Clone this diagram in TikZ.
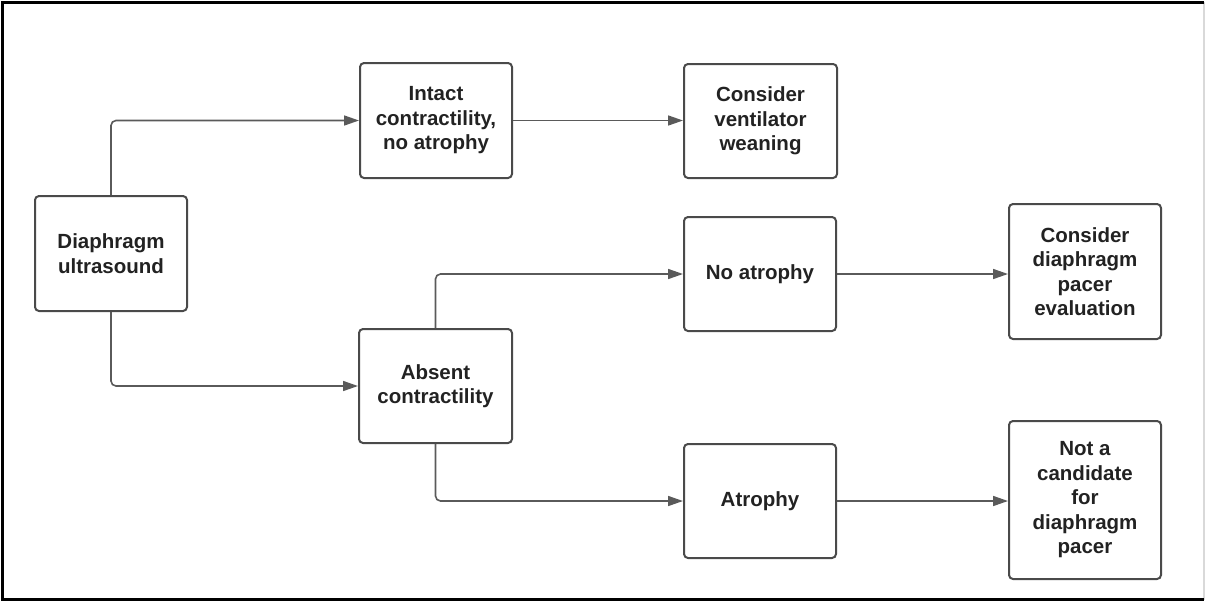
\documentclass[tikz,border=0pt]{standalone}
\usepackage{fontspec}
\setmainfont{Liberation Sans}
\usetikzlibrary{arrows.meta,calc}
\definecolor{boxline}{HTML}{4A4A4A}
\definecolor{conn}{HTML}{5A5A5A}
\definecolor{txt}{HTML}{222222}
\tikzset{
  box/.style={draw=boxline, line width=2pt, rounded corners=4pt, fill=white,
    inner sep=0pt, align=center, text=txt,
    font=\bfseries\fontsize{20.5}{24.5}\selectfont},
  conn/.style={draw=conn, line width=1.6pt, rounded corners=5pt,
    -{Triangle[length=15pt,width=10pt]}}
}
\begin{document}
\begin{tikzpicture}[x=1pt,y=-1pt]
\useasboundingbox (0,0) rectangle (1206,603);
\draw[black!15, line width=2pt] (1204,2) -- (1204,600);
\draw[black, line width=3pt] (1204,2.5) -- (2.5,2.5) -- (2.5,599.5) -- (1204,599.5);

\node[box, minimum width=152pt, minimum height=115pt] (diag) at (111,253.5) {Diaphragm\\ultrasound};
\node[box, minimum width=152pt, minimum height=115pt] (intact) at (436,120.5) {Intact\\contractility,\\no atrophy};
\node[box, minimum width=153pt, minimum height=114pt] (vent) at (760.5,121) {Consider\\ventilator\\weaning};
\node[box, minimum width=152pt, minimum height=114pt] (noat) at (760,274) {No atrophy};
\node[box, minimum width=152pt, minimum height=135pt] (pacer) at (1085,271.5) {Consider\\diaphragm\\pacer\\evaluation};
\node[box, minimum width=153pt, minimum height=114pt] (absent) at (435.5,386) {Absent\\contractility};
\node[box, minimum width=152pt, minimum height=114pt] (atro) at (760,501) {Atrophy};
\node[box, minimum width=152pt, minimum height=158pt] (notc) at (1085,500) {Not a\\candidate\\for\\diaphragm\\pacer};

\draw[conn] (diag.north) |- (intact.west);
\draw[conn] (diag.south) |- (absent.west);
\draw[conn] (intact.east) -- (intact.east -| vent.west);
\draw[conn] (absent.north) |- (noat.west);
\draw[conn] (absent.south) |- (atro.west);
\draw[conn] (noat.east) -- (noat.east -| pacer.west);
\draw[conn] (atro.east) -- (atro.east -| notc.west);
\end{tikzpicture}
\end{document}
